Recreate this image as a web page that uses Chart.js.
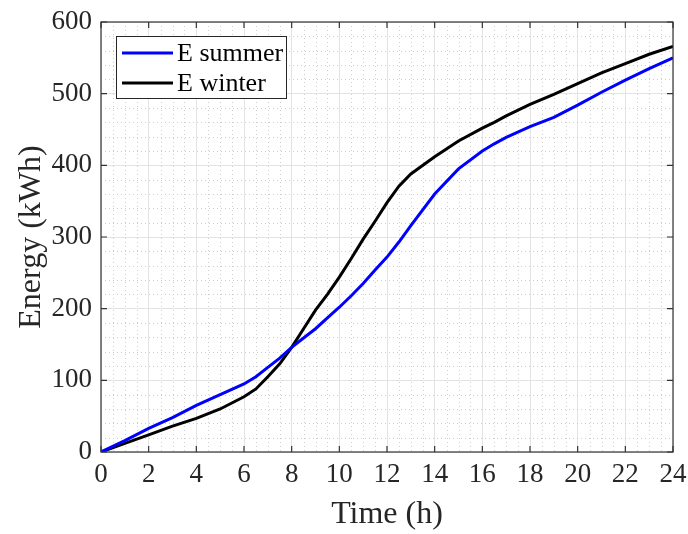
<!DOCTYPE html>
<html>
<head>
<meta charset="utf-8">
<script src="https://cdn.jsdelivr.net/npm/chart.js@4/dist/chart.umd.min.js"></script>
<style>
  html, body { margin: 0; padding: 0; background: #fff; }
  canvas { display: block; }
</style>
</head>
<body>
<canvas id="energyChart" width="688" height="534"></canvas>
<script>
// Time axis (h) and cumulative energy (kWh)
const times = [0, 1, 2, 3, 4, 5, 6, 6.5, 7, 7.5, 8, 8.5, 9, 9.5, 10, 10.5, 11, 11.5,
  12, 12.5, 13, 14, 15, 16, 16.5, 17, 18, 19, 20, 21, 22, 23, 24];
const energySummer = [0, 16, 33, 48, 65, 80, 95, 105, 118, 131, 146, 159, 172, 187, 202, 218, 235, 254,
  272, 293, 316, 360, 395, 420, 430, 439, 454, 467, 484, 502, 519, 535, 550];
const energyWinter = [0, 12, 24, 36, 47, 60, 77, 88, 105, 123, 146, 172, 198, 220, 244, 270, 297, 322,
  348, 371, 388, 412, 434, 452, 460, 469, 485, 499, 514, 529, 542, 555, 566];
const seriesLabels = ['E summer', 'E winter'];
const seriesColors = ['#0000ff', '#000000'];

const FONT = '"Liberation Serif", "Times New Roman", serif';

function toPoints(ys) {
  return times.map((t, i) => ({ x: t, y: ys[i] }));
}

// MATLAB-like minor dotted grid, drawn from the scales
const minorGrid = {
  id: 'minorGrid',
  beforeDatasetsDraw(chart) {
    const { ctx, chartArea: a, scales: { x, y } } = chart;
    ctx.save();
    ctx.strokeStyle = '#cdcdcd';
    ctx.lineWidth = 1;
    ctx.setLineDash([1, 3]);
    for (let t = 0.5; t < 24; t += 0.5) {
      if (t % 2 === 0) continue;
      const px = Math.round(x.getPixelForValue(t)) + 0.5;
      ctx.beginPath(); ctx.moveTo(px, a.top); ctx.lineTo(px, a.bottom); ctx.stroke();
    }
    for (let v = 20; v < 600; v += 20) {
      if (v % 100 === 0) continue;
      const py = Math.round(y.getPixelForValue(v)) + 0.5;
      ctx.beginPath(); ctx.moveTo(a.left, py); ctx.lineTo(a.right, py); ctx.stroke();
    }
    ctx.restore();
  }
};

// box round the axes with inward ticks on all four sides
const axesBox = {
  id: 'axesBox',
  afterDatasetsDraw(chart) {
    const { ctx, chartArea: a, scales: { x, y } } = chart;
    const len = 6;
    ctx.save();
    ctx.strokeStyle = '#333';
    ctx.lineWidth = 1.2;
    ctx.strokeRect(a.left, a.top, a.right - a.left, a.bottom - a.top);
    ctx.beginPath();
    x.ticks.forEach(tk => {
      const px = x.getPixelForValue(tk.value);
      ctx.moveTo(px, a.bottom); ctx.lineTo(px, a.bottom - len);
      ctx.moveTo(px, a.top); ctx.lineTo(px, a.top + len);
    });
    y.ticks.forEach(tk => {
      const py = y.getPixelForValue(tk.value);
      ctx.moveTo(a.left, py); ctx.lineTo(a.left + len, py);
      ctx.moveTo(a.right, py); ctx.lineTo(a.right - len, py);
    });
    ctx.stroke();
    ctx.restore();
  }
};

// boxed legend in the upper left corner of the axes
const boxLegend = {
  id: 'boxLegend',
  afterDraw(chart) {
    const { ctx } = chart;
    const bx = 116, by = 36, bw = 170, bh = 62;
    ctx.save();
    ctx.fillStyle = '#fff';
    ctx.fillRect(bx, by, bw, bh);
    ctx.strokeStyle = '#262626';
    ctx.lineWidth = 1;
    ctx.strokeRect(bx + 0.5, by + 0.5, bw, bh);
    ctx.font = '26px ' + FONT;
    ctx.textBaseline = 'middle';
    chart.data.datasets.forEach((ds, i) => {
      const ly = by + 17 + i * 30;
      ctx.strokeStyle = ds.borderColor;
      ctx.lineWidth = 3;
      ctx.beginPath(); ctx.moveTo(122, ly); ctx.lineTo(173, ly); ctx.stroke();
      ctx.fillStyle = '#000';
      ctx.fillText(ds.label, 177, ly + 1);
    });
    ctx.restore();
  }
};

new Chart(document.getElementById('energyChart').getContext('2d'), {
  type: 'line',
  data: {
    datasets: [
      {
        label: seriesLabels[0],
        data: toPoints(energySummer),
        borderColor: seriesColors[0],
        borderWidth: 3,
        pointRadius: 0,
        tension: 0,
        fill: false,
      },
      {
        label: seriesLabels[1],
        data: toPoints(energyWinter),
        borderColor: seriesColors[1],
        borderWidth: 3,
        pointRadius: 0,
        tension: 0,
        fill: false,
      },
    ],
  },
  options: {
    responsive: false,
    devicePixelRatio: 1,
    animation: false,
    layout: { padding: { left: 0, top: 22, right: 15, bottom: 0 } },
    plugins: {
      legend: { display: false },
      tooltip: { enabled: false },
    },
    scales: {
      x: {
        type: 'linear',
        min: 0,
        max: 24,
        ticks: {
          stepSize: 2,
          padding: 7,
          color: '#262626',
          font: { family: FONT, size: 27 },
        },
        grid: { color: '#e3e3e3', drawTicks: false },
        border: { display: false },
        title: {
          display: true,
          text: 'Time (h)',
          color: '#262626',
          font: { family: FONT, size: 32 },
          padding: { top: 0, bottom: 0 },
        },
        afterFit(scale) {
          scale.height = 82;
          scale.paddingLeft = 0;
          scale.paddingRight = 0;
        },
      },
      y: {
        min: 0,
        max: 600,
        ticks: {
          stepSize: 100,
          padding: 9,
          color: '#262626',
          font: { family: FONT, size: 27 },
        },
        grid: { color: '#e3e3e3', drawTicks: false },
        border: { display: false },
        title: {
          display: true,
          text: 'Energy (kWh)',
          color: '#262626',
          font: { family: FONT, size: 32 },
          padding: 12,
        },
        afterFit(scale) {
          scale.width = 101;
          scale.paddingTop = 0;
          scale.paddingBottom = 0;
        },
      },
    },
  },
  plugins: [minorGrid, axesBox, boxLegend],
});
</script>
</body>
</html>
